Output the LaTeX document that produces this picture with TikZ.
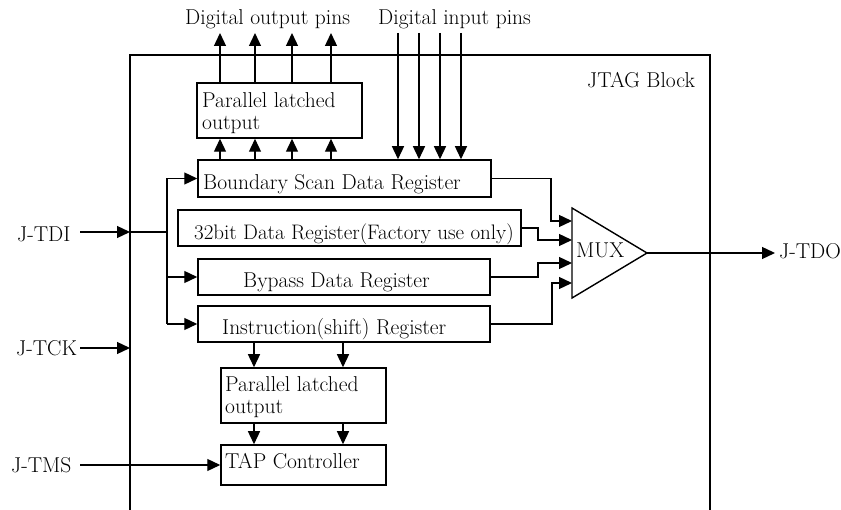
\documentclass[tikz,border=0pt]{standalone}
\usetikzlibrary{arrows.meta}
\begin{document}
\begin{tikzpicture}[x=1pt,y=-1pt,
  box/.style={draw,line width=1.5pt,inner sep=0pt,rectangle},
  txt/.style={inner sep=0pt,anchor=base west,font=\fontsize{21.5}{22}\selectfont},
  mtxt/.style={inner sep=0pt,anchor=west,align=left,font=\fontsize{21.5}{21.8}\selectfont},
  wire/.style={line width=1.3pt},
  arr/.style={line width=1.3pt,-{Triangle[length=13pt,width=12pt]}},
  outer/.style={line width=1.2pt}]
\useasboundingbox (0,0) rectangle (841,510);
% outer JTAG block (open at bottom)
\coordinate (ob1) at (130,510);
\coordinate (ob2) at (130,55);
\coordinate (ob3) at (710,55);
\coordinate (ob4) at (710,510);
\draw[outer] (ob1) -- (ob2) -- (ob3) -- (ob4);
\node[txt] (jtag) at (587,88) {JTAG Block};
% boxes
\node[box,minimum width=165pt,minimum height=55pt] (plo1) at (279.5,110.5) {};
\node[box,minimum width=293pt,minimum height=37pt] (bsdr) at (344.5,178.5) {};
\node[box,minimum width=343pt,minimum height=36pt] (d32) at (349.5,228) {};
\node[box,minimum width=292pt,minimum height=36pt] (byp) at (344,277) {};
\node[box,minimum width=292pt,minimum height=36pt] (ins) at (344,324) {};
\node[box,minimum width=165pt,minimum height=55pt] (plo2) at (303.5,395.5) {};
\node[box,minimum width=165pt,minimum height=40pt] (tap) at (303.5,465) {};
% box texts
\node[mtxt] (plo1t) at (202,113) {Parallel latched\\output};
\node[txt] (bsdrt) at (203,190) {Boundary Scan Data Register};
\node[txt,font=\fontsize{21}{22}\selectfont] (d32t) at (194,240) {32bit Data Register(Factory use only)};
\node[txt] (bypt) at (243,288) {Bypass Data Register};
\node[txt] (inst) at (222,335) {Instruction(shift) Register};
\node[mtxt] (plo2t) at (225,397.5) {Parallel latched\\output};
\node[txt] (tapt) at (225,468) {TAP Controller};
% pin labels
\node[txt] (dout) at (185,25) {Digital output pins};
\node[txt] (din) at (378,25) {Digital input pins};
% digital output pins
\foreach \i/\x in {1/220,2/255,3/292,4/331}{
  \coordinate (o\i) at (\x,33);
  \draw[arr] (plo1.north -| o\i) -- (o\i);
  \draw[arr] (bsdr.north -| o\i) -- (plo1.south -| o\i);
}
% digital input pins
\foreach \i/\x in {1/398,2/419,3/440,4/461}{
  \coordinate (i\i) at (\x,33);
  \draw[arr] (i\i) -- (bsdr.north -| i\i);
}
% J-TDI and bus
\node[txt] (tdi) at (17,242) {J-TDI};
\coordinate (tdiA) at (80,232);
\coordinate (tdiB) at (130,232);
\coordinate (bus) at (167,232);
\coordinate (busT) at (167,178.5);
\coordinate (busM) at (167,277);
\coordinate (busB) at (167,324);
\draw[arr] (tdiA) -- (tdiB);
\draw[wire] (tdiB) -- (bus);
\draw[wire] (busT) -- (busB);
\draw[arr] (busT) -- (bsdr.west);
\draw[arr] (busM) -- (byp.west);
\draw[arr] (busB) -- (ins.west);
% J-TCK
\node[txt] (tck) at (16,356) {J-TCK};
\coordinate (tckA) at (80,348);
\coordinate (tckB) at (130,348);
\draw[arr] (tckA) -- (tckB);
% J-TMS
\node[txt] (tms) at (11,472) {J-TMS};
\coordinate (tmsA) at (80,465);
\draw[arr] (tmsA) -- (tap.west);
% instruction -> parallel latched -> TAP
\foreach \x in {254,343}{
  \draw[arr] (ins.south -| \x,0) -- (plo2.north -| \x,0);
  \draw[arr] (plo2.south -| \x,0) -- (tap.north -| \x,0);
}
% MUX
\coordinate (mA) at (572,208);
\coordinate (mT) at (647,253);
\coordinate (mB) at (572,298);
\draw[line width=1.4pt] (mA) -- (mT) -- (mB) -- cycle;
\node[txt] (muxt) at (576,258) {MUX};
\coordinate (mi1) at (572,221);
\coordinate (mi2) at (572,240);
\coordinate (mi3) at (572,263);
\coordinate (mi4) at (572,283);
\draw[arr] (bsdr.east) -| (551,221) -- (mi1);
\draw[arr] (d32.east) -| (538,240) -- (mi2);
\draw[arr] (byp.east) -| (538,263) -- (mi3);
\draw[arr] (ins.east) -| (552,283) -- (mi4);
% J-TDO
\coordinate (tdo) at (775,253);
\draw[arr] (mT) -- (tdo);
\node[txt] (tdot) at (779,259) {J-TDO};
\end{tikzpicture}
\end{document}
